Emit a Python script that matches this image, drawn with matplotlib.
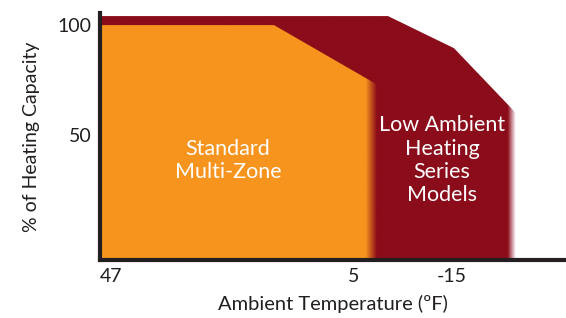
import numpy as np
import matplotlib
matplotlib.use("Agg")
import matplotlib.pyplot as plt
from matplotlib.patches import Polygon
from matplotlib.colors import to_rgb

# x is a position along the temperature axis (not linear in degrees)
tick_pos = [11, 254, 352]
tick_labels = ["47", "5", "-15"]
y_ticks = [50, 100]
y_bottom = -6.8
y_top = 105.5

# Standard multi-zone capacity envelope
std_x = [0, 0, 174, 277, 277]
std_y = [y_bottom, 100, 100, 73, y_bottom]

# Low ambient heating series envelope
low_x = [0, 0, 288, 354, 416, 416]
low_y = [y_bottom, 104.1, 104.1, 89.5, 60, y_bottom]

ORANGE = "#F7941E"
DARKRED = "#8B0C1A"
INK = "#231F20"

plt.rcParams['font.family'] = ['Lato', 'DejaVu Sans']


def faded_fill(ax, xs, ys, color, fade, z):
    poly = Polygon(np.column_stack([xs, ys]), closed=True,
                   facecolor='none', edgecolor='none')
    ax.add_patch(poly)
    x0, x1 = min(xs), max(xs)
    gx = np.linspace(x0, x1, 800)
    rgba = np.zeros((1, gx.size, 4))
    rgba[..., :3] = to_rgb(color)
    rgba[..., 3] = np.clip((x1 - gx) / fade, 0, 1)
    im = ax.imshow(rgba, extent=[x0, x1, min(ys), max(ys)], aspect='auto',
                   interpolation='bilinear', origin='lower', zorder=z)
    im.set_clip_path(poly)


fig = plt.figure(figsize=(5.66, 3.18), dpi=100)
ax = fig.add_axes([100 / 566, 58 / 318, 466 / 566, 247 / 318])

faded_fill(ax, low_x, low_y, DARKRED, 8, 1)
faded_fill(ax, std_x, std_y, ORANGE, 11, 2)

ax.set_xlim(0, 466)
ax.set_ylim(y_bottom, y_top)

ax.text(128, 38.6, "Standard\nMulti-Zone", color="white", fontsize=15.5,
        ha="center", va="center", linespacing=1.2, zorder=3)
ax.text(342, 38.6, "Low Ambient\nHeating\nSeries\nModels", color="white",
        fontsize=15.5, ha="center", va="center", linespacing=1.2, zorder=3)

for s in ["top", "right"]:
    ax.spines[s].set_visible(False)
for s in ["left", "bottom"]:
    ax.spines[s].set_linewidth(3)
    ax.spines[s].set_color(INK)
    ax.spines[s].set_zorder(5)

ax.set_xticks(tick_pos)
ax.set_xticklabels(tick_labels)
ax.set_yticks(y_ticks)
ax.tick_params(length=0, labelsize=14, colors=INK, pad=6)
ax.set_xlabel("Ambient Temperature (ºF)", fontsize=14.5, color=INK, labelpad=7)
ax.set_ylabel("% of Heating Capacity", fontsize=14, color=INK, labelpad=13)

fig.savefig("out.png", dpi=100)
